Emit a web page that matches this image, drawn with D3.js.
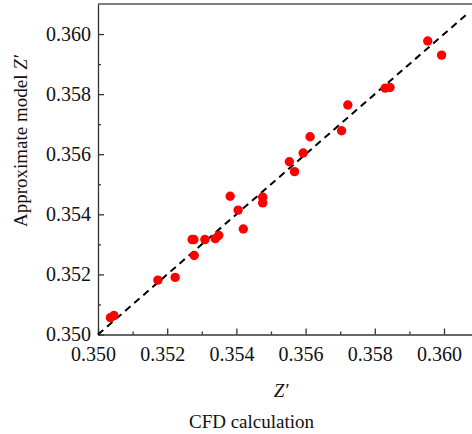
<!DOCTYPE html>
<html>
<head>
<meta charset="utf-8">
<script src="https://cdn.jsdelivr.net/npm/d3@7"></script>
<style>
  body { margin: 0; background: #fff; }
  svg { display: block; }
  svg text { font-family: "Liberation Serif", "Times New Roman", serif; font-size: 19px; fill: #111; }
  svg .tick text { font-size: 20px; }
</style>
</head>
<body>
<div id="chart"></div>
<script>
// CFD calculation (x) vs approximate model (y)
var cfdZ = [0.35036, 0.35046, 0.35173, 0.35223, 0.35272, 0.35277, 0.35278, 0.35309,
  0.35339, 0.35349, 0.35382, 0.35405, 0.35420, 0.35476, 0.35476, 0.35553, 0.35568,
  0.35593, 0.35613, 0.35704, 0.35722, 0.35830, 0.35844, 0.35953, 0.35993];
var modelZ = [0.35056, 0.35063, 0.35181, 0.35190, 0.35316, 0.35316, 0.35263, 0.35316,
  0.35319, 0.35330, 0.35460, 0.35414, 0.35351, 0.35457, 0.35438, 0.35575, 0.35542,
  0.35604, 0.35658, 0.35678, 0.35764, 0.35820, 0.35822, 0.35977, 0.35930];

var majorTicks = [0.350, 0.352, 0.354, 0.356, 0.358, 0.360];
var minorTicks = [0.351, 0.353, 0.355, 0.357, 0.359];
var axisDomain = [0.350, 0.361];
var diagonal = [0.350, 0.3607];

var W = 472, H = 434,
  margin = {top: 4, left: 98, bottom: 334.5},
  xRight = 478.6;

var svg = d3.select('#chart').append('svg')
  .attr('width', W)
  .attr('height', H);

var x = d3.scaleLinear().domain(axisDomain).range([margin.left, xRight]),
  y = d3.scaleLinear().domain(axisDomain).range([margin.bottom, margin.top]);

var fmt = d3.format('.3f');

// top frame line
svg.append('line')
  .attr('x1', margin.left).attr('x2', W)
  .attr('y1', margin.top).attr('y2', margin.top)
  .attr('stroke', '#555').attr('stroke-width', 1.5);

// x axis
var gx = svg.append('g')
  .attr('class', 'axis')
  .attr('transform', 'translate(0,' + margin.bottom + ')')
  .call(d3.axisBottom(x).tickValues(majorTicks).tickFormat(fmt)
    .tickSizeInner(-6).tickSizeOuter(0).tickPadding(12));
gx.selectAll('.tick text').attr('dx', -5);
svg.append('g')
  .attr('class', 'axis')
  .attr('transform', 'translate(0,' + margin.bottom + ')')
  .call(d3.axisBottom(x).tickValues(minorTicks).tickFormat('')
    .tickSizeInner(-3).tickSizeOuter(0))
  .select('.domain').remove();

// y axis
svg.append('g')
  .attr('class', 'axis')
  .attr('transform', 'translate(' + margin.left + ',0)')
  .call(d3.axisLeft(y).tickValues(majorTicks).tickFormat(fmt)
    .tickSizeInner(-6).tickSizeOuter(0).tickPadding(7));
svg.append('g')
  .attr('class', 'axis')
  .attr('transform', 'translate(' + margin.left + ',0)')
  .call(d3.axisLeft(y).tickValues(minorTicks).tickFormat('')
    .tickSizeInner(-3).tickSizeOuter(0))
  .select('.domain').remove();

// drop d3's default sans-serif 10px so the css font applies
svg.selectAll('.axis')
  .attr('font-family', null)
  .attr('font-size', null);

svg.selectAll('.domain, .tick line')
  .attr('stroke', '#333')
  .attr('stroke-width', 1.3);

svg.selectAll('.tick text').attr('fill', null);

// y = x reference line
svg.append('line')
  .attr('x1', x(diagonal[0])).attr('y1', y(diagonal[0]))
  .attr('x2', x(diagonal[1])).attr('y2', y(diagonal[1]))
  .attr('stroke', '#000')
  .attr('stroke-width', 2)
  .attr('stroke-dasharray', '7,5');

// points
svg.append('g').selectAll('circle')
  .data(cfdZ.map(function (d, i) { return {cfd: d, model: modelZ[i]}; }))
  .enter().append('circle')
  .attr('cx', function (d) { return x(d.cfd); })
  .attr('cy', function (d) { return y(d.model); })
  .attr('r', 4.7)
  .attr('fill', '#ff0000');

// axis titles
svg.append('text')
  .attr('x', 281).attr('y', 396.5)
  .attr('text-anchor', 'middle')
  .style('font-style', 'italic')
  .text('Z\u2032');

svg.append('text')
  .attr('x', 251.5).attr('y', 428)
  .attr('text-anchor', 'middle')
  .text('CFD calculation');

var yt = svg.append('text')
  .attr('transform', 'translate(27,141) rotate(-90)')
  .attr('text-anchor', 'middle');
yt.append('tspan').text('Approximate model ');
yt.append('tspan').style('font-style', 'italic').text('Z\u2032');
</script>
</body>
</html>
